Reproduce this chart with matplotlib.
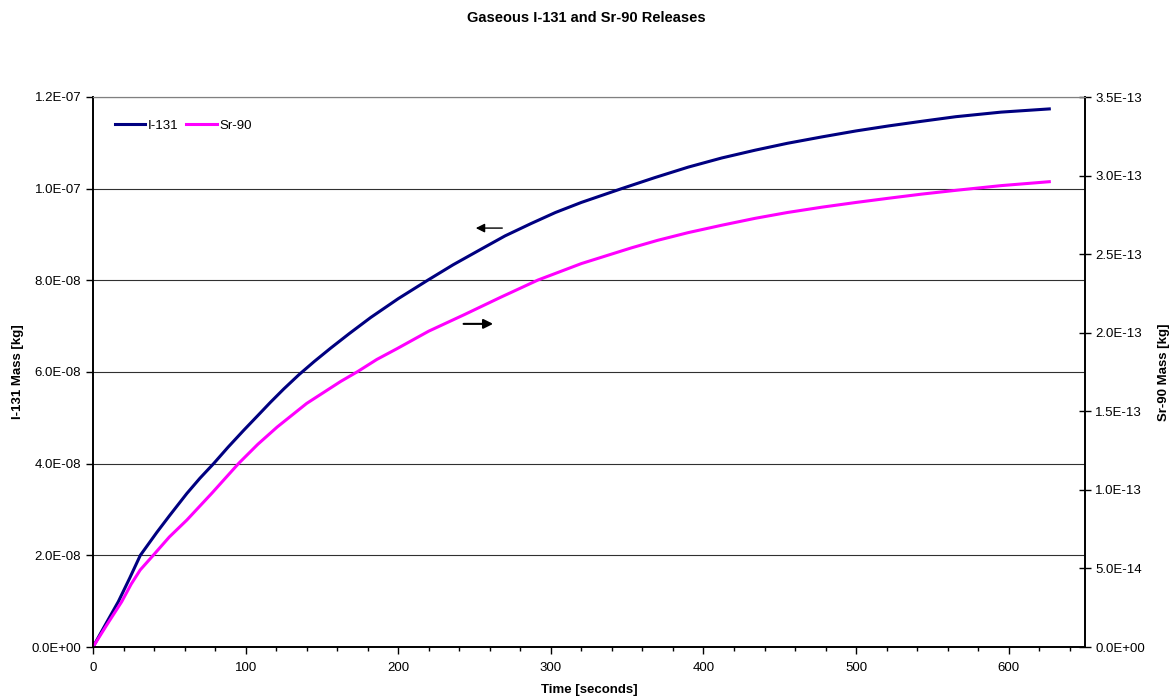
import matplotlib
matplotlib.use('Agg')
import matplotlib.pyplot as plt
from matplotlib.ticker import MultipleLocator, FuncFormatter

# I-131 mass [kg] vs time [s] (left axis)
t_i131 = [0, 8, 16.6, 24, 31, 41.8, 50, 61.5, 70, 79, 88.5, 98.8, 108, 116.3, 125,
          134.9, 145, 155.7, 168, 182, 200, 219.2, 236, 254.3, 270, 287.1, 303, 320,
          346.3, 368, 390, 412, 433.9, 455, 477.7, 500, 521.5, 543, 565.3, 595, 626.6]
m_i131 = [0, 0.48e-8, 0.99e-8, 1.5e-8, 2.0e-8, 2.5e-8, 2.86e-8, 3.35e-8, 3.68e-8,
          4.0e-8, 4.36e-8, 4.73e-8, 5.05e-8, 5.34e-8, 5.63e-8, 5.94e-8, 6.23e-8,
          6.52e-8, 6.84e-8, 7.19e-8, 7.6e-8, 8.0e-8, 8.34e-8, 8.68e-8, 8.97e-8,
          9.24e-8, 9.48e-8, 9.70e-8, 10.0e-8, 10.24e-8, 10.47e-8, 10.67e-8, 10.84e-8,
          10.99e-8, 11.13e-8, 11.26e-8, 11.37e-8, 11.47e-8, 11.57e-8, 11.67e-8,
          11.74e-8]

# Sr-90 mass [kg] vs time [s] (right axis)
t_sr90 = [0, 9, 18.8, 25, 30.9, 39.6, 50, 61.5, 78, 95.5, 108, 120.7, 140, 162.3,
          173.3, 186, 199.5, 220, 243.3, 267, 291.5, 320, 352.8, 370, 390, 412,
          433.9, 455, 477.7, 500, 521.5, 543, 565.3, 595, 626.6]
m_sr90 = [0, 0.14e-13, 0.288e-13, 0.40e-13, 0.49e-13, 0.585e-13, 0.70e-13,
          0.808e-13, 0.98e-13, 1.169e-13, 1.29e-13, 1.40e-13, 1.55e-13, 1.69e-13,
          1.752e-13, 1.83e-13, 1.90e-13, 2.01e-13, 2.115e-13, 2.225e-13, 2.335e-13,
          2.44e-13, 2.54e-13, 2.588e-13, 2.637e-13, 2.684e-13, 2.728e-13, 2.765e-13,
          2.799e-13, 2.829e-13, 2.856e-13, 2.882e-13, 2.906e-13, 2.936e-13, 2.961e-13]

plt.rcParams['font.family'] = ['Liberation Sans', 'DejaVu Sans']

fig = plt.figure(figsize=(11.73, 7.0), dpi=100)
ax = fig.add_axes([93 / 1173, 1 - 647 / 700, (1085 - 93) / 1173, (647 - 97) / 700])
ax2 = ax.twinx()

l1, = ax.plot(t_i131, m_i131, color='#000080', lw=2.2, label='I-131')
l2, = ax2.plot(t_sr90, m_sr90, color='#FF00FF', lw=2.2, label='Sr-90')

sci = FuncFormatter(lambda v, p: f'{v:.1E}')

ax.set_xlim(0, 650)
ax.set_ylim(0, 1.2e-7)
ax2.set_ylim(0, 3.5e-13)
ax.xaxis.set_major_locator(MultipleLocator(100))
ax.xaxis.set_minor_locator(MultipleLocator(20))
ax.yaxis.set_major_locator(MultipleLocator(2e-8))
ax2.yaxis.set_major_locator(MultipleLocator(5e-14))
ax.yaxis.set_major_formatter(sci)
ax2.yaxis.set_major_formatter(sci)

ax.tick_params(axis='both', which='major', direction='out', length=5, labelsize=9.5, width=1)
ax.tick_params(axis='x', which='major', pad=6)
ax.tick_params(axis='x', which='minor', direction='out', length=3, width=1)
ax2.tick_params(axis='y', direction='inout', length=8, labelsize=9.5, width=1)

ax.grid(axis='y', color='#303030', lw=0.8)
ax.set_axisbelow(True)
for a in (ax, ax2):
    a.spines['top'].set_color('#808080')
    a.spines['left'].set_linewidth(1.2)
    a.spines['bottom'].set_linewidth(1.2)
    a.spines['right'].set_linewidth(1.2)

ax.set_xlabel('Time [seconds]', fontsize=9.5, fontweight='bold', labelpad=7)
ax.set_ylabel('I-131 Mass [kg]', fontsize=9.5, fontweight='bold', labelpad=5)
ax2.set_ylabel('Sr-90 Mass [kg]', fontsize=9.5, fontweight='bold', labelpad=9,
               rotation=90)

ax.annotate('', xy=(249, 9.14e-8), xytext=(270, 9.14e-8),
            arrowprops=dict(arrowstyle='-|>', color='black', lw=1, mutation_scale=13))
ax.annotate('', xy=(264, 7.05e-8), xytext=(241, 7.05e-8),
            arrowprops=dict(arrowstyle='-|>', color='black', lw=1.5, mutation_scale=14))

ax.legend(handles=[l1, l2], loc='upper left', ncol=2, frameon=False, fontsize=9.5,
          handlelength=2.3, handletextpad=0.2, columnspacing=0.6,
          bbox_to_anchor=(0.01, 0.98))

fig.suptitle('Gaseous I-131 and Sr-90 Releases', fontsize=10.5, fontweight='bold', y=0.985)

fig.savefig('out.png', dpi=100)
